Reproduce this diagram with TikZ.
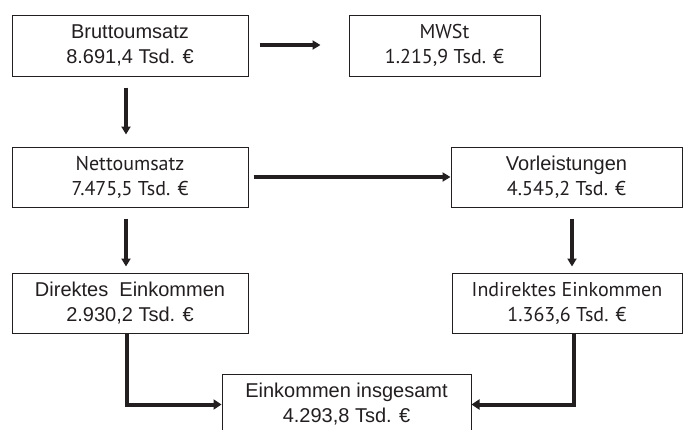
\documentclass[tikz,border=0pt]{standalone}
\usepackage{fontspec}
\setmainfont{Liberation Sans}
\newfontfamily\myr{PT Sans}
\usetikzlibrary{arrows.meta}
\definecolor{ink}{HTML}{231F20}
\tikzset{
  box/.style={draw=ink, line width=1pt, text=ink, align=center, inner sep=0pt,
    font=\fontsize{20pt}{25pt}\selectfont},
  arr/.style={draw=ink, line width=3.2pt, -{Triangle[length=8pt,width=9pt]}},
  arrb/.style={draw=ink, line width=4pt, -{Triangle[length=8pt,width=10pt]}},
}
\begin{document}
\begin{tikzpicture}[x=1pt,y=-1pt]
\useasboundingbox (0,0) rectangle (683,429);
\fill[white] (0,0) rectangle (683,429);
\node[box, minimum width=236pt, minimum height=61pt] (A) at (130,45.5) {Bruttoumsatz\\8.691,4 Tsd. €};
\node[box, minimum width=191pt, minimum height=61pt] (B) at (444.5,45.5) {\myr MWSt\\\myr 1.215,9 Tsd. €};
\node[box, minimum width=236pt, minimum height=60pt] (C) at (130,177) {\myr Nettoumsatz\\\myr 7.475,5 Tsd. €};
\node[box, minimum width=231pt, minimum height=60pt] (D) at (566.5,177) {Vorleistungen\\\myr 4.545,2 Tsd. €};
\node[box, minimum width=236pt, minimum height=60pt] (E) at (130,303) {Direktes\ \ Einkommen\\2.930,2 Tsd. €};
\node[box, minimum width=230pt, minimum height=60pt] (F) at (567,303) {\myr Indirektes Einkommen\\\myr 1.363,6 Tsd. €};
\node[box, minimum width=249pt, minimum height=60pt] (G) at (346.5,404.5) {Einkommen insgesamt\\4.293,8 Tsd. €};
\draw[arr] ([xshift=11pt,yshift=0.5pt]A.east) -- ([xshift=-28pt,yshift=0.5pt]B.west);
\draw[arr] ([xshift=-4pt,yshift=-11pt]A.south) -- ([xshift=-4pt,yshift=12pt]C.north);
\draw[arr] ([xshift=5pt]C.east) -- (D.west);
\draw[arr] ([xshift=-4pt,yshift=-11pt]C.south) -- ([xshift=-4pt,yshift=6pt]E.north);
\draw[arr] ([xshift=5.5pt,yshift=-11pt]D.south) -- ([xshift=5.5pt,yshift=6pt]D.south |- F.north);
\draw[arrb] ([xshift=-3pt]E.south) |- (G.west);
\draw[arrb] ([xshift=7pt]F.south) |- (G.east);
\end{tikzpicture}
\end{document}
